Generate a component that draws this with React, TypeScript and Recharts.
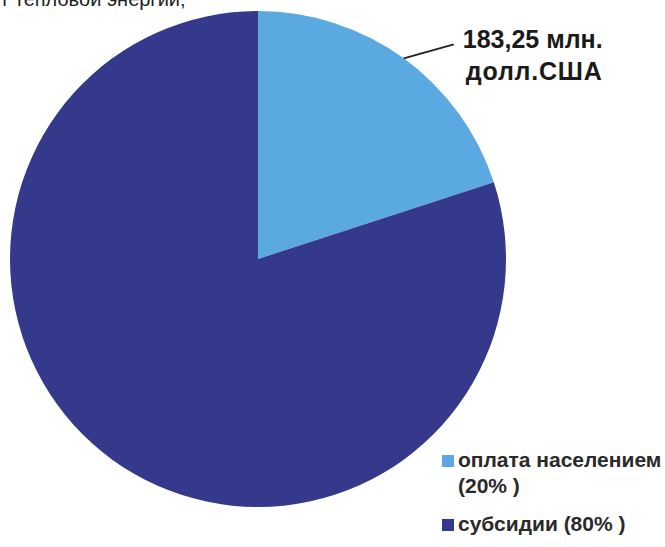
import React from "react";
import { PieChart, Pie, Cell } from "recharts";

const categories = ["оплата населением", "субсидии"];
const legendLabels = ["оплата населением\n(20% )", "субсидии (80% )"];
const values = [20, 80];
const colors = ["#5aa9e0", "#35398c"];
const labelLines = ["183,25 млн.", "долл.США"];
const topText = "т тепловой энергии;";

const data = categories.map((name, i) => ({ name, value: values[i], legend: legendLabels[i] }));

const RADIAN = Math.PI / 180;

const renderLabel = (props: any) => {
  const { cx, cy, midAngle, outerRadius, index } = props;
  if (index !== 0) return null;
  const ex = cx + outerRadius * Math.cos(-midAngle * RADIAN);
  const ey = cy + outerRadius * Math.sin(-midAngle * RADIAN);
  const lx = ex + 50;
  const ly = ey - 14;
  return (
    <g>
      <path d={`M${ex},${ey}L${lx},${ly}`} stroke="#222" strokeWidth={2} fill="none" />
      <text x={lx + 9} y={ly + 4} fill="#1a1a1a" fontFamily="Liberation Sans, Arial, sans-serif" fontWeight="bold" fontSize={25}>
        {labelLines[0]}
      </text>
      <text x={lx + 12} y={ly + 36} fill="#1a1a1a" fontFamily="Liberation Sans, Arial, sans-serif" fontWeight="bold" fontSize={25} letterSpacing={0.8}>
        {labelLines[1]}
      </text>
    </g>
  );
};

const LegendBox = () => (
  <div style={{ position: "absolute", left: 442, top: 447, width: 225, fontFamily: "Liberation Sans, Arial, sans-serif", fontWeight: "bold", fontSize: 21, color: "#2a2a2a", lineHeight: "26px" }}>
    {data.map((d, i) => {
      const lines = d.legend.split("\n");
      return (
        <div key={d.name} style={{ display: "flex", alignItems: "flex-start", marginBottom: i === 0 ? 12 : 0 }}>
          <span style={{ display: "inline-block", flex: "none", width: 12, height: 12, background: colors[i], marginTop: 8, marginRight: 4 }} />
          <span style={{ whiteSpace: "nowrap" }}>
            {lines.map((l, j) => (
              <div key={j}>{l}</div>
            ))}
          </span>
        </div>
      );
    })}
  </div>
);

export default function App() {
  return (
    <div style={{ position: "absolute", left: 0, top: 0, width: 665, height: 547, background: "#fff", overflow: "hidden" }}>
      <div style={{ position: "absolute", left: 0, top: -12, fontFamily: "Liberation Sans Narrow, Liberation Sans, Arial, sans-serif", fontSize: 20, color: "#222", whiteSpace: "nowrap" }}>
        {topText}
      </div>
      <PieChart width={665} height={547} margin={{ top: 0, right: 0, bottom: 0, left: 0 }}>
        <Pie
          data={data}
          dataKey="value"
          nameKey="name"
          cx={258}
          cy={259}
          outerRadius={248}
          startAngle={90}
          endAngle={-270}
          stroke="none"
          label={renderLabel}
          labelLine={false}
          isAnimationActive={false}
        >
          {data.map((d, i) => (
            <Cell key={d.name} fill={colors[i]} />
          ))}
        </Pie>
      </PieChart>
      <LegendBox />
    </div>
  );
}
